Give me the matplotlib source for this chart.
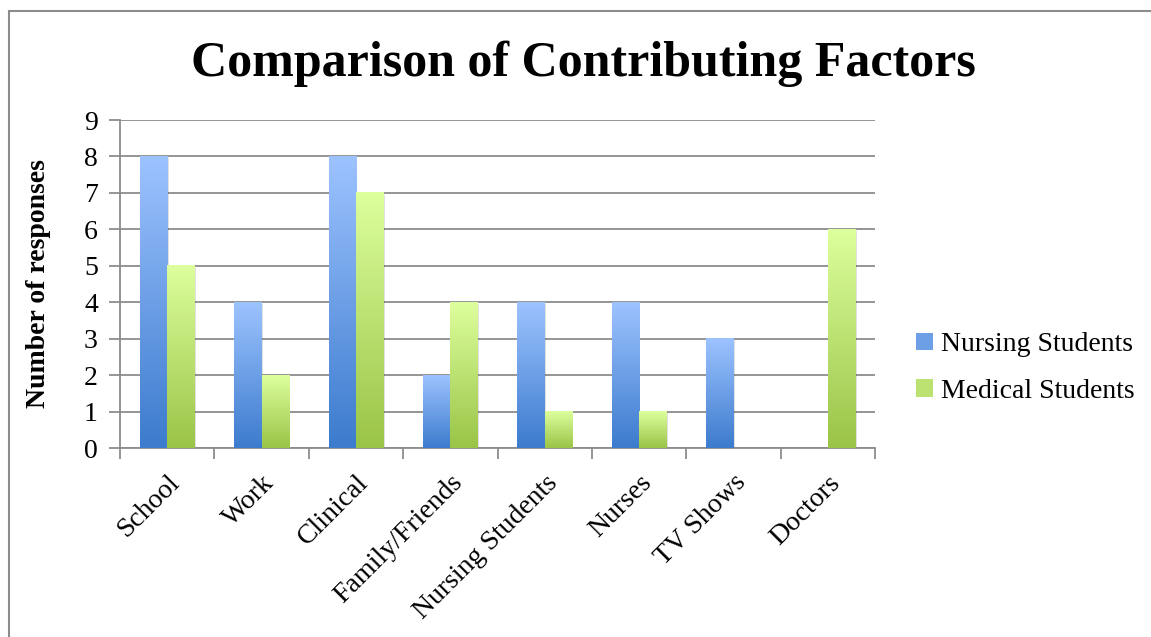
import numpy as np
import matplotlib
matplotlib.use("Agg")
import matplotlib.pyplot as plt
from matplotlib.colors import LinearSegmentedColormap
from matplotlib.patches import Rectangle, Patch

categories = ["School", "Work", "Clinical", "Family/Friends", "Nursing Students",
              "Nurses", "TV Shows", "Doctors"]
nursing = [8, 4, 8, 2, 4, 4, 3, 0]
medical = [5, 2, 7, 4, 1, 1, 0, 6]
series_names = ["Nursing Students", "Medical Students"]

blue_cmap = LinearSegmentedColormap.from_list("b", ["#3C7BCD", "#9DC3FF"])
green_cmap = LinearSegmentedColormap.from_list("g", ["#9AC447", "#DDFF9D"])

plt.rcParams['font.family'] = ['Liberation Serif', 'DejaVu Serif']

fig = plt.figure(figsize=(11.51, 6.37), dpi=100)
ax = fig.add_axes([120/1151, 1-448/637, 755/1151, 328/637])

x = np.arange(len(categories))
w = 0.29
grad = np.linspace(0, 1, 256).reshape(-1, 1)

def gradient_bars(xpos, vals, cmap):
    bars = ax.bar(xpos, vals, w, color="none", edgecolor="none", zorder=3)
    for b in bars:
        h = b.get_height()
        if h <= 0:
            continue
        x0 = b.get_x()
        # soft shadow
        ax.add_patch(Rectangle((x0 + 0.015, -0.07), w, h + 0.02, facecolor="#000000",
                               alpha=0.12, edgecolor="none", zorder=2))
        ax.imshow(grad, cmap=cmap, origin="lower", aspect="auto",
                  extent=(x0, x0 + w, 0, h), zorder=3, interpolation="bicubic")
    return bars

gradient_bars(x - w/2, nursing, blue_cmap)
gradient_bars(x + w/2, medical, green_cmap)

ax.set_xlim(-0.5, len(categories) - 0.5)
ax.set_ylim(0, 9)
ax.set_yticks(range(0, 10))
ax.yaxis.grid(True, color="#8c8c8c", linewidth=1.3, zorder=1)
ax.set_axisbelow(True)

ax.set_xticks(np.arange(-0.5, len(categories)), minor=False)
ax.set_xticklabels([])
ax.set_xticks(x, minor=True)
ax.set_xticklabels(categories, minor=True, rotation=45, ha="right",
                   rotation_mode="anchor", fontsize=20)
ax.tick_params(axis="x", which="minor", length=0, pad=16)
ax.tick_params(axis="x", which="major", length=8, color="#8c8c8c", width=1.3)
ax.tick_params(axis="y", length=8, color="#8c8c8c", width=1.3, labelsize=20, pad=8)

for s in ["top", "right"]:
    ax.spines[s].set_visible(False)
for s in ["left", "bottom"]:
    ax.spines[s].set_color("#8c8c8c")
    ax.spines[s].set_linewidth(1.3)

ax.set_ylabel("Number of responses", fontsize=20, fontweight="bold", labelpad=24)
fig.text(0.507, 1-64/637, "Comparison of Contributing Factors", ha="center",
         va="center", fontsize=36, fontweight="bold")

handles = [Patch(facecolor="#6C9FE6", edgecolor="none"),
           Patch(facecolor="#BCE272", edgecolor="none")]
fig.legend(handles, series_names, loc="center left",
           bbox_to_anchor=(891/1151, 1-368/637), frameon=False, fontsize=20,
           handlelength=0.6, handleheight=0.6, handletextpad=0.3, labelspacing=0.78)

fig.add_artist(Rectangle((9/1151, -0.05), 1.1, 1.05 - 11/637, transform=fig.transFigure,
                         facecolor="none", edgecolor="#8c8c8c", linewidth=1.5))

fig.savefig("out.png", dpi=100)
